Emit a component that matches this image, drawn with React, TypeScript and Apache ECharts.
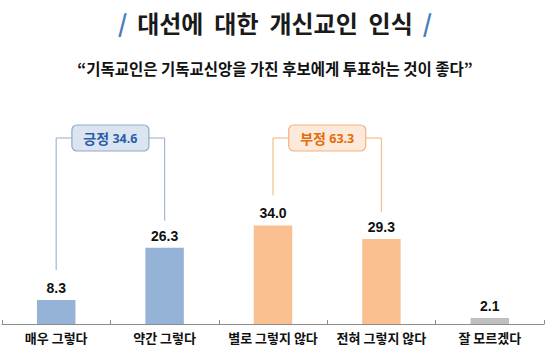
import React, { useEffect, useRef } from "react";
import * as echarts from "echarts";

const categories = ["매우 그렇다", "약간 그렇다", "별로 그렇지 않다", "전혀 그렇지 않다", "잘 모르겠다"];
const values = [8.3, 26.3, 34.0, 29.3, 2.1];
const barColors = ["#95b3d7", "#95b3d7", "#fac090", "#fac090", "#bfbfbf"];
const groupLabels = ["긍정", "부정"];
const groupValues = ["34.6", "63.3"];
const groupIndices = [[0, 1], [2, 3]];

const titleText = "대선에  대한  개신교인  인식";
const subtitleText = "“기독교인은 기독교신앙을 가진 후보에게 투표하는 것이 좋다”";

const KR = "'Noto Sans CJK KR', 'Noto Sans', sans-serif";
const NUM = "'Liberation Sans', Arial, sans-serif";

function buildOption(extra: any[]) {
  return {
    animation: false,
    backgroundColor: "#ffffff",
    grid: { left: 2, right: 6, top: 150, bottom: 34 },
    xAxis: {
      type: "category",
      data: categories,
      axisLine: { lineStyle: { color: "#8c8c8c", width: 1 } },
      axisTick: { show: true, inside: true, length: 4, lineStyle: { color: "#8c8c8c" } },
      axisLabel: {
        color: "#111",
        fontFamily: KR,
        fontWeight: "bold",
        fontSize: 13,
        margin: 7,
        interval: 0,
      },
    },
    yAxis: { type: "value", min: 0, max: 60, show: false, splitLine: { show: false } },
    series: [
      {
        type: "bar",
        data: values.map((v, i) => ({ value: v, itemStyle: { color: barColors[i] } })),
        barWidth: "35.5%",
        label: {
          show: true,
          position: "top",
          distance: 5,
          formatter: (p: any) => Number(p.value).toFixed(1),
          color: "#111",
          fontFamily: NUM,
          fontWeight: "bold",
          fontSize: 14,
        },
      },
    ],
    graphic: [
      {
        type: "text",
        left: "center",
        top: 10,
        style: {
          text: "{s|/}   {t|" + titleText + "}   {s|/}",
          rich: {
            s: { fill: "#4a7ebb", fontSize: 24, fontFamily: KR, fontWeight: "bold" },
            t: { fill: "#1a1a1a", fontSize: 24, fontFamily: KR, fontWeight: "bold" },
          },
        },
      },
      {
        type: "text",
        left: "center",
        top: 60,
        style: { text: subtitleText, fill: "#111", fontSize: 15.5, fontFamily: KR, fontWeight: "bold" },
      },
      ...extra,
    ],
  };
}

export default function App() {
  const ref = useRef<HTMLDivElement>(null);
  useEffect(() => {
    if (!ref.current) return;
    const chart = echarts.init(ref.current, null, { renderer: "svg" });
    chart.setOption(buildOption([]) as any);

    const topY = 138;
    const themes = [
      { line: "#a3b9d3", fill: "#dbe5f1", border: "#8eaacb", text: "#2a5ea8" },
      { line: "#f0c08e", fill: "#fde9d9", border: "#f4b183", text: "#e46c0a" },
    ];
    const extra: any[] = [];
    groupIndices.forEach((idx, g) => {
      const th = themes[g];
      const pts = idx.map((i) => chart.convertToPixel({ seriesIndex: 0 }, [i, values[i]]) as number[]);
      const x1 = pts[0][0];
      const x2 = pts[1][0];
      const cx = (x1 + x2) / 2;
      const boxW = 77;
      const boxH = 26;
      const lineStyle = { stroke: th.line, lineWidth: 1.2 };
      extra.push({ type: "line", shape: { x1, y1: topY, x2: x1, y2: pts[0][1] - 30 }, style: lineStyle });
      extra.push({ type: "line", shape: { x1: x2, y1: topY, x2, y2: pts[1][1] - 27 }, style: lineStyle });
      extra.push({ type: "line", shape: { x1, y1: topY, x2: cx - boxW / 2, y2: topY }, style: lineStyle });
      extra.push({ type: "line", shape: { x1: cx + boxW / 2, y1: topY, x2, y2: topY }, style: lineStyle });
      extra.push({
        type: "rect",
        shape: { x: cx - boxW / 2, y: topY - boxH / 2, width: boxW, height: boxH, r: 5 },
        style: { fill: th.fill, stroke: th.border, lineWidth: 1.2 },
      });
      extra.push({
        type: "text",
        x: cx,
        y: topY,
        style: {
          text: "{a|" + groupLabels[g] + "} {b|" + groupValues[g] + "}",
          align: "center",
          verticalAlign: "middle",
          rich: {
            a: { fill: th.text, fontSize: 14, fontWeight: "bold", fontFamily: KR },
            b: { fill: th.text, fontSize: 12.5, fontWeight: "bold", fontFamily: "'Open Sans', sans-serif" },
          },
        },
      });
    });
    chart.setOption(buildOption(extra) as any, { notMerge: true });
    return () => chart.dispose();
  }, []);
  return <div ref={ref} style={{ width: 550, height: 358, position: "absolute", left: 0, top: 0 }} />;
}
